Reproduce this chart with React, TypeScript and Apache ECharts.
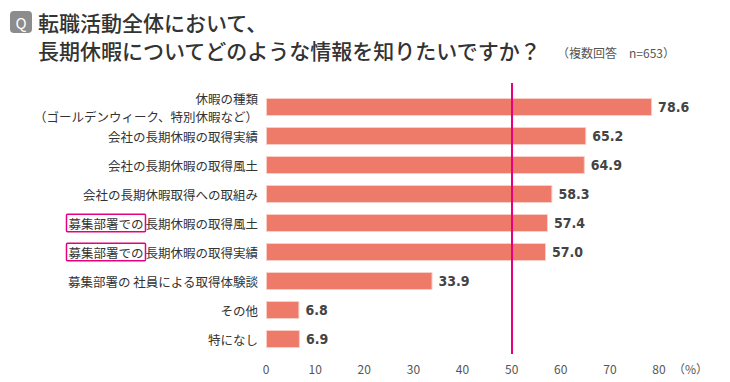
import React, { useEffect, useRef } from "react";
import * as echarts from "echarts";

const categories = [
  "休暇の種類\n（ゴールデンウィーク、特別休暇など）",
  "会社の長期休暇の取得実績",
  "会社の長期休暇の取得風土",
  "会社の長期休暇取得への取組み",
  "募集部署での長期休暇の取得風土",
  "募集部署での長期休暇の取得実績",
  "募集部署の 社員による取得体験談",
  "その他",
  "特になし",
];
const values = [78.6, 65.2, 64.9, 58.3, 57.4, 57.0, 33.9, 6.8, 6.9];
const highlightPrefix = "募集部署での";
const referenceValue = 50;
const titleLine1 = "転職活動全体において、";
const titleLine2 = "長期休暇についてどのような情報を知りたいですか？";
const note = "（複数回答　n=653）";
const unit = "（%）";

const JP = '"Noto Sans CJK JP", "Noto Sans", sans-serif';
const NUM = '"DejaVu Sans Condensed", "Liberation Sans Narrow", sans-serif';

export default function App() {
  const ref = useRef<HTMLDivElement>(null);
  useEffect(() => {
    if (!ref.current) return;
    const chart = echarts.init(ref.current, null, { renderer: "svg" });
    chart.setOption({
      animation: false,
      backgroundColor: "#ffffff",
      grid: { left: 266, right: 71, top: 92.5, bottom: 28.5 },
      xAxis: {
        type: "value",
        min: 0,
        max: 80,
        interval: 10,
        splitLine: { show: false },
        axisLine: { show: false },
        axisTick: { show: false },
        axisLabel: { color: "#555", fontSize: 12, fontFamily: JP, margin: 9 },
      },
      yAxis: {
        type: "category",
        inverse: true,
        data: categories,
        axisLine: { show: false },
        axisTick: { show: false },
        axisLabel: {
          margin: 8,
          color: "#333",
          fontSize: 12.5,
          fontFamily: JP,
          lineHeight: 18,
          align: "right",
          formatter: (v: string) => {
            if (v.startsWith(highlightPrefix)) {
              return `{box|${highlightPrefix}}{n|${v.slice(highlightPrefix.length)}}`;
            }
            return v;
          },
          rich: {
            box: {
              color: "#333",
              fontSize: 12.5,
              fontFamily: JP,
              borderColor: "#e5007f",
              borderWidth: 1.5,
              padding: [3, 2, 2, 2],
              borderRadius: 1,
            },
            n: { color: "#333", fontSize: 12.5, fontFamily: JP },
          },
        },
      },
      series: [
        {
          type: "bar",
          data: values,
          barWidth: 18,
          itemStyle: { color: "#ee7b69", borderColor: "#f9cfc5", borderWidth: 1 },
          label: {
            show: true,
            position: "right",
            distance: 6,
            color: "#444",
            fontSize: 14,
            fontWeight: "bold",
            fontFamily: NUM,
            formatter: (p: any) => Number(p.value).toFixed(1),
          },
          markLine: {
            silent: true,
            symbol: "none",
            label: { show: false },
            lineStyle: { color: "#e5007f", width: 2, type: "solid" },
            data: [[{ xAxis: referenceValue, y: 83 }, { xAxis: referenceValue, y: 354 }]],
          },
        },
      ],
      graphic: [
        { type: "rect", shape: { x: 10, y: 11, width: 22, height: 22, r: 4 }, style: { fill: "#8c8c8c" } },
        {
          type: "text",
          x: 21,
          y: 22,
          style: { text: "Q", fill: "#fff", fontSize: 15, fontFamily: JP, align: "center", verticalAlign: "middle" },
        },
        {
          type: "text",
          x: 38,
          y: 22,
          style: { text: titleLine1, fill: "#333", fontSize: 21, fontWeight: 500, fontFamily: JP, verticalAlign: "middle" },
        },
        {
          type: "text",
          x: 38,
          y: 50,
          style: { text: titleLine2, fill: "#333", fontSize: 21, fontWeight: 500, fontFamily: JP, verticalAlign: "middle" },
        },
        {
          type: "text",
          x: 557,
          y: 52,
          style: { text: note, fill: "#555", fontSize: 12, fontFamily: JP, verticalAlign: "middle" },
        },
        {
          type: "text",
          x: 673,
          y: 368,
          style: { text: unit, fill: "#555", fontSize: 12, fontFamily: JP, verticalAlign: "middle" },
        },
      ],
    });
    return () => chart.dispose();
  }, []);
  return <div ref={ref} style={{ width: 730, height: 382, position: "absolute", left: 0, top: 0 }} />;
}
